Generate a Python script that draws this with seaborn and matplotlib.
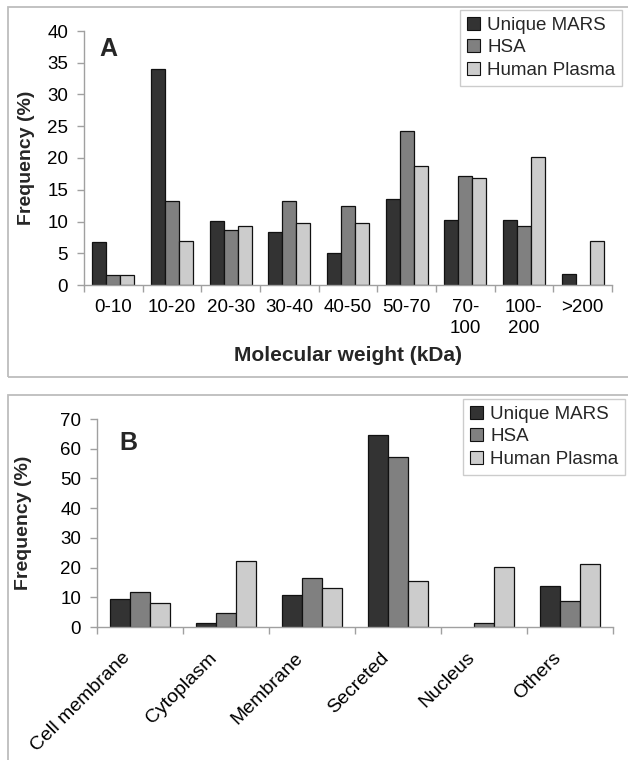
import matplotlib
matplotlib.use("Agg")
import matplotlib.pyplot as plt
import seaborn as sns
import pandas as pd
from matplotlib.patches import Rectangle
from matplotlib.transforms import ScaledTranslation

series = ["Unique MARS", "HSA", "Human Plasma"]
colors = ["#333333", "#808080", "#cccccc"]

mw_cats = ["0-10", "10-20", "20-30", "30-40", "40-50", "50-70", "70-\n100", "100-\n200", ">200"]
mw_mars = [6.7, 34.0, 10.1, 8.4, 5.0, 13.6, 10.2, 10.2, 1.7]
mw_hsa = [1.5, 13.3, 8.6, 13.3, 12.4, 24.2, 17.2, 9.3, 0.0]
mw_plasma = [1.5, 6.9, 9.3, 9.7, 9.8, 18.8, 16.8, 20.1, 7.0]

loc_cats = ["Cell membrane", "Cytoplasm", "Membrane", "Secreted", "Nucleus", "Others"]
loc_mars = [9.3, 1.5, 10.9, 64.6, 0.0, 13.8]
loc_hsa = [11.8, 4.7, 16.4, 57.2, 1.5, 8.7]
loc_plasma = [8.1, 22.2, 13.2, 15.5, 20.3, 21.3]

sns.set_theme(style="white")
plt.rcParams['font.family'] = ['Liberation Sans', 'DejaVu Sans']

def long_df(cats, a, b, c):
    rows = []
    for name, vals in zip(series, [a, b, c]):
        for cat, v in zip(cats, vals):
            rows.append({"cat": cat, "val": v, "series": name})
    return pd.DataFrame(rows)

fig = plt.figure(figsize=(6.28, 7.6), dpi=100)

# panel frames
fig.patches.append(Rectangle((8/628, 1-377/760), 1.0, (377-7)/760, transform=fig.transFigure,
                             fill=False, edgecolor="#bdbdbd", linewidth=1.3))
fig.patches.append(Rectangle((8/628, -0.05), 1.0, 0.05 + (760-395)/760, transform=fig.transFigure,
                             fill=False, edgecolor="#bdbdbd", linewidth=1.3))

axA = fig.add_axes([84/628, 1-285/760, (612-84)/628, (285-31)/760])
axB = fig.add_axes([97/628, 1-627/760, (613-97)/628, (627-419)/760])

def style(ax, df, cats, width, ymax, ystep, label, lx, ly, anchor, ylabelpad):
    sns.barplot(data=df, x="cat", y="val", hue="series", order=cats, hue_order=series,
                palette=colors, width=width, edgecolor="#111111", linewidth=0.9,
                saturation=1, ax=ax, errorbar=None)
    for p in ax.patches:
        if p.get_height() == 0:
            p.set_linewidth(0)
    n = len(cats)
    ax.set_xlim(-0.5, n - 0.5)
    ax.set_ylim(0, ymax)
    ax.set_yticks(range(0, ymax + 1, ystep))
    ax.set_xticks(range(n))
    ax.set_xticks([i - 0.5 for i in range(n + 1)], minor=True)
    ax.tick_params(axis="x", which="major", length=0, pad=10, labelsize=13.5, colors="black")
    ax.tick_params(axis="x", which="minor", length=5, width=1, color="#a0a0a0", direction="out", bottom=True)
    ax.tick_params(axis="y", length=5, width=1, color="#a0a0a0", direction="out", left=True,
                   labelsize=13.5, labelcolor="black", pad=6.5)
    for s in ["top", "right"]:
        ax.spines[s].set_visible(False)
    for s in ["left", "bottom"]:
        ax.spines[s].set_color("#a0a0a0")
        ax.spines[s].set_linewidth(1)
    ax.set_ylabel("Frequency (%)", fontsize=14, fontweight="bold", labelpad=ylabelpad)
    ax.text(lx, ly, label, transform=ax.transAxes, fontsize=18, fontweight="bold", va="top", ha="left")
    leg = ax.legend(loc="upper right", bbox_to_anchor=anchor, bbox_transform=fig.transFigure,
                    fontsize=13.5, frameon=True, fancybox=False, edgecolor="#c0c0c0",
                    handlelength=0.7, handleheight=0.7, handletextpad=0.4, labelspacing=0.3,
                    borderpad=0.35, borderaxespad=0)
    leg.get_frame().set_linewidth(1)
    for h in leg.legend_handles:
        h.set_edgecolor("#111111")
        h.set_linewidth(0.8)

dfA = long_df(mw_cats, mw_mars, mw_hsa, mw_plasma)
style(axA, dfA, mw_cats, 0.72, 40, 5, "A", 0.030, 0.975, (622/628, 1-10/760), 8.5)
axA.set_xlabel("Molecular weight (kDa)", fontsize=15, fontweight="bold", labelpad=6)
for t in axA.get_xticklabels():
    t.set_linespacing(1.35)

dfB = long_df(loc_cats, loc_mars, loc_hsa, loc_plasma)
style(axB, dfB, loc_cats, 0.69, 70, 10, "B", 0.043, 0.94, (625/628, 1-399/760), 20)
axB.set_xlabel("")
axB.tick_params(axis="x", which="major", pad=16, labelsize=14)
shift = ScaledTranslation(-18/100, 0, fig.dpi_scale_trans)
for t in axB.get_xticklabels():
    t.set_rotation(45)
    t.set_ha("right")
    t.set_rotation_mode("anchor")
    t.set_transform(t.get_transform() + shift)

fig.savefig("out.png", dpi=100)
